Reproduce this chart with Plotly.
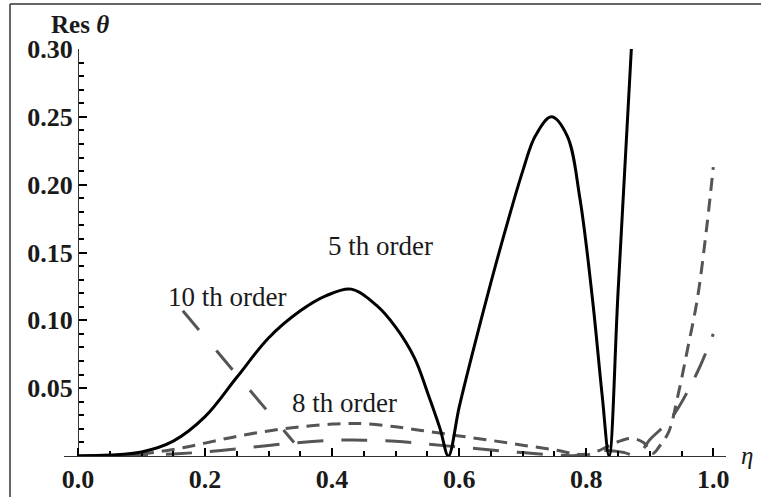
import plotly.graph_objects as go

# Residual of theta versus eta for three approximation orders
eta_5th = [0.00, 0.05, 0.10, 0.15, 0.20, 0.25, 0.30, 0.35, 0.39, 0.43, 0.47, 0.50,
           0.53, 0.55, 0.57, 0.583, 0.60, 0.62, 0.65, 0.67, 0.70, 0.72, 0.745,
           0.77, 0.79, 0.81, 0.825, 0.836, 0.85, 0.871]
res_5th = [0.0, 0.0007, 0.003, 0.011, 0.029, 0.058, 0.087, 0.107, 0.118, 0.123, 0.111, 0.095,
           0.072, 0.047, 0.020, 0.0, 0.036, 0.074, 0.128, 0.162, 0.210, 0.236, 0.250,
           0.236, 0.190, 0.115, 0.045, 0.0, 0.120, 0.300]

eta_8th = [0.00, 0.05, 0.10, 0.15, 0.20, 0.25, 0.30, 0.35, 0.40, 0.43, 0.45, 0.50,
           0.55, 0.60, 0.65, 0.70, 0.75, 0.78, 0.80, 0.82, 0.85, 0.87, 0.89, 0.905,
           0.915, 0.93, 0.945, 0.96, 0.975, 0.99, 1.00]
res_8th = [0.0, 0.0004, 0.0016, 0.0048, 0.0095, 0.0145, 0.0185, 0.0215, 0.0235, 0.024, 0.0238, 0.0215,
           0.0182, 0.0148, 0.0115, 0.0080, 0.0045, 0.0018, 0.0008, 0.0040, 0.0105, 0.0130, 0.0100, 0.0020,
           0.0070, 0.0180, 0.0460, 0.0800, 0.1160, 0.1700, 0.2130]

eta_10th = [0.00, 0.05, 0.10, 0.15, 0.20, 0.25, 0.30, 0.35, 0.40, 0.43, 0.45, 0.50,
            0.55, 0.60, 0.65, 0.70, 0.75, 0.78, 0.80, 0.83, 0.86, 0.88, 0.90, 0.92,
            0.94, 0.96, 0.98, 1.00]
res_10th = [0.0, 0.0001, 0.0005, 0.0015, 0.0030, 0.0052, 0.0078, 0.0100, 0.0115, 0.0118, 0.0117, 0.0108,
            0.0088, 0.0066, 0.0044, 0.0025, 0.0008, 0.0002, 0.0015, 0.0040, 0.0025, 0.0002, 0.0120, 0.0210,
            0.0320, 0.0480, 0.0670, 0.0900]

x_ticks = [0.0, 0.2, 0.4, 0.6, 0.8, 1.0]
x_tick_text = ["0.0", "0.2", "0.4", "0.6", "0.8", "1.0"]
y_ticks = [0.05, 0.10, 0.15, 0.20, 0.25, 0.30]
y_tick_text = ["0.05", "0.10", "0.15", "0.20", "0.25", "0.30"]

# leader line from the "10 th order" label down to its curve
leader_start = (0.165, 0.107)
leader_end = (0.34, 0.010)

W, H = 761, 497
L, R, T, B = 64, 35, 49, 41
PW, PH = W - L - R, H - T - B


def px_x(p):
    return (p - L) / PW


def px_y(p):
    return (H - B - p) / PH


serif = "Liberation Serif"
ink = "#1a1a1a"
gray = "#555555"
axis_col = "#333333"
tick_col = "black"

fig = go.Figure()
fig.add_trace(go.Scatter(x=eta_8th, y=res_8th, mode="lines", line_shape="spline",
                         line=dict(color=gray, width=3, dash="13px,8px"), showlegend=False))
fig.add_trace(go.Scatter(x=eta_10th, y=res_10th, mode="lines", line_shape="spline",
                         line=dict(color=gray, width=3, dash="26px,18px"), showlegend=False))
fig.add_trace(go.Scatter(x=eta_5th, y=res_5th, mode="lines", line_shape="spline",
                         line=dict(color="black", width=3), showlegend=False))

fig.add_shape(type="line", xref="x", yref="y",
              x0=leader_start[0], y0=leader_start[1], x1=leader_end[0], y1=leader_end[1],
              line=dict(color=gray, width=3, dash="25px,27px"))

# frame edges on the left and top
fig.add_shape(type="line", xref="paper", yref="paper",
              x0=px_x(10), y0=px_y(4), x1=px_x(10), y1=px_y(520),
              line=dict(color="#333333", width=1.5))
fig.add_shape(type="line", xref="paper", yref="paper",
              x0=px_x(10), y0=px_y(4), x1=px_x(780), y1=px_y(4),
              line=dict(color="#333333", width=1.5))

tick_font = dict(family=serif, size=26, color=ink, weight="bold")

fig.update_xaxes(range=[-0.022, 1.02], showgrid=False, zeroline=False, automargin=False,
                 showline=True, linecolor=axis_col, linewidth=1.3,
                 tickmode="array", tickvals=x_ticks, ticktext=x_tick_text,
                 ticks="inside", ticklen=8, tickwidth=2, tickcolor=tick_col,
                 minor=dict(tickmode="linear", tick0=0, dtick=0.05, ticks="inside",
                            ticklen=5, tickwidth=1.5, tickcolor=tick_col, showgrid=False),
                 tickfont=tick_font)
fig.update_yaxes(range=[0, 0.30], showgrid=False, zeroline=False, automargin=False,
                 anchor="free", position=0.022 / 1.042,
                 showline=True, linecolor=axis_col, linewidth=1.3,
                 tickmode="array", tickvals=y_ticks, ticktext=y_tick_text,
                 ticks="inside", ticklen=8, tickwidth=2, tickcolor=tick_col,
                 minor=dict(tickmode="linear", tick0=0, dtick=0.01, ticks="inside",
                            ticklen=5, tickwidth=1.5, tickcolor=tick_col, showgrid=False),
                 tickfont=tick_font)

label_font = dict(family=serif, size=27, color=ink)
annotations = [
    dict(text="<b>Res</b> <b><i>θ</i></b>", x=px_x(80), y=px_y(24),
         font=dict(family=serif, size=25, color=ink)),
    dict(text="<i>η</i>", x=px_x(747), y=px_y(455),
         font=dict(family=serif, size=25, color=ink)),
    dict(text="5 th order", x=px_x(380), y=px_y(246), font=label_font),
    dict(text="10 th order", x=px_x(227), y=px_y(297), font=label_font),
    dict(text="8 th order", x=px_x(344), y=px_y(403), font=label_font),
]
for a in annotations:
    fig.add_annotation(xref="paper", yref="paper", showarrow=False,
                       xanchor="center", yanchor="middle", **a)

fig.update_layout(width=W, height=H, margin=dict(l=L, r=R, t=T, b=B),
                  plot_bgcolor="white", paper_bgcolor="white")

fig.write_html("out.html")
